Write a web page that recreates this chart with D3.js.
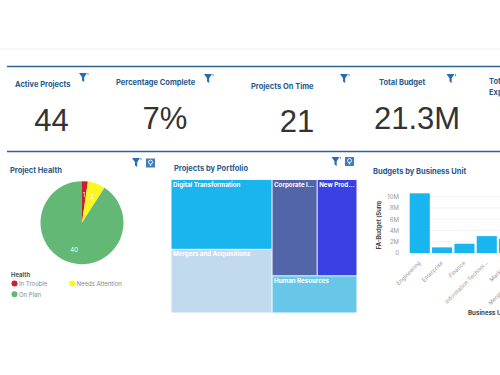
<!DOCTYPE html>
<html>
<head>
<meta charset="utf-8">
<script src="https://cdn.jsdelivr.net/npm/d3@7"></script>
<style>
html, body { margin: 0; padding: 0; background: #fff; overflow: hidden; }
svg { display: block; }
text { font-family: "Inter", "Noto Sans", sans-serif; }
.title { fill: #27598c; font-weight: 700; font-size: 7.5px; }
.kpi { fill: #333; font-family: "Liberation Sans", sans-serif; font-size: 31px; text-anchor: middle; }
.tick text { fill: #999; font-size: 6px; }
.xlabels .tick text { font-size: 5.6px; }
.legend { fill: #888; font-size: 6px; }
</style>
</head>
<body>
<svg id="chart" width="500" height="375"></svg>
<script>
const kpiTitles = ['Active Projects', 'Percentage Complete', 'Projects On Time', 'Total Budget'];
const kpiValues = ['44', '7%', '21', '21.3M'];

const healthNames = ['In Trouble', 'Needs Attention', 'On Plan'];
const healthValues = [1, 3, 40];
const healthColors = ['#c8202f', '#fbf71f', '#62b874'];

const portfolioNames = ['Digital Transformation', 'Mergers and Acquisitions', 'Corporate I...', 'New Prod...', 'Human Resources'];
const portfolioValues = [12.5, 11.4, 7.7, 6.8, 5.6];
const portfolioColors = ['#18b5ee', '#c2daee', '#5265a8', '#3a40e2', '#68c6e8'];

const unitNames = ['Engineering', 'Enterprise', 'Finance', 'Information Technol...', 'Marketing', 'Mergers and Acquisi...'];
const unitBudgets = [10.6, 1, 1.65, 3, 2.5, 1.5];
const budgetTicks = [0, 2, 4, 6, 8, 10];

const svg = d3.select('#chart');

// faint header line and the two blue section rules
svg.append('line').attr('x1', 0).attr('x2', 500).attr('y1', 49).attr('y2', 49)
    .attr('stroke', '#f0f0f0');
svg.selectAll('.rule')
    .data([66.5, 151.5])
    .enter()
    .append('line')
    .attr('class', 'rule')
    .attr('x1', 7).attr('x2', 500)
    .attr('y1', d => d).attr('y2', d => d)
    .attr('stroke', '#2c6496')
    .attr('stroke-width', 1.6);

function funnel(x, y) {
    const g = svg.append('g').attr('transform', `translate(${x}, ${y})`);
    g.append('path').attr('d', 'M0,0 L8,0 L5.2,4.2 L5.2,9 L3,7.6 L3,4.2 Z').attr('fill', '#2a6cb0');
    g.append('circle').attr('cx', 9).attr('cy', 1).attr('r', 0.7).attr('fill', '#2a6cb0');
}

function bulb(x, y) {
    const g = svg.append('g').attr('transform', `translate(${x}, ${y})`);
    g.append('rect').attr('width', 9).attr('height', 9).attr('fill', '#3f7fc0');
    g.append('circle').attr('cx', 4.5).attr('cy', 3.6).attr('r', 2)
        .attr('fill', 'none').attr('stroke', '#e8f2fa').attr('stroke-width', 1);
    g.append('rect').attr('x', 3.9).attr('y', 5.6).attr('width', 1.2).attr('height', 1.8).attr('fill', '#e8f2fa');
}

// KPI row
const kpiTitleX = [15, 116, 251, 379];
const kpiTitleY = [87, 85, 89, 85];
const kpiValueX = [51.5, 165, 297, 417];
const kpiValueY = [131, 129, 132, 129];
const kpiFunnelX = [79, 204, 340, 446.5];
const kpiFunnelY = [73, 74, 74, 74];
kpiTitles.forEach((t, i) => {
    svg.append('text').attr('class', 'title').attr('x', kpiTitleX[i]).attr('y', kpiTitleY[i]).text(t);
    svg.append('text').attr('class', 'kpi').attr('x', kpiValueX[i]).attr('y', kpiValueY[i]).text(kpiValues[i]);
    funnel(kpiFunnelX[i], kpiFunnelY[i]);
});
svg.append('text').attr('class', 'title').attr('x', 489).attr('y', 84).text('Total');
svg.append('text').attr('class', 'title').attr('x', 489).attr('y', 95).text('Expenses');

// Project Health pie
svg.append('text').attr('class', 'title').attr('x', 10).attr('y', 172.5).text('Project Health');
funnel(132, 158);
bulb(146, 158.5);

const pie = d3.pie().sort(null);
const arc = d3.arc().innerRadius(0).outerRadius(41.5);
const labelArc = d3.arc().innerRadius(28).outerRadius(28);
const pieG = svg.append('g').attr('transform', 'translate(82, 222.7)');
pieG.selectAll('path')
    .data(pie(healthValues))
    .enter()
    .append('path')
    .attr('d', arc)
    .attr('fill', (d, i) => healthColors[i]);
pieG.selectAll('text')
    .data(pie(healthValues))
    .enter()
    .append('text')
    .attr('transform', d => `translate(${labelArc.centroid(d)})`)
    .attr('dy', '0.35em')
    .attr('text-anchor', 'middle')
    .attr('fill', '#fff')
    .style('font-size', '6px')
    .text(d => d.value);

svg.append('text').attr('x', 11).attr('y', 277).attr('fill', '#555')
    .style('font-size', '6px').style('font-weight', 700).text('Health');
const legendX = [14.5, 72, 14.5];
const legendY = [283.5, 283.5, 294.3];
healthNames.forEach((n, i) => {
    svg.append('circle').attr('cx', legendX[i]).attr('cy', legendY[i]).attr('r', 3).attr('fill', healthColors[i]);
    svg.append('text').attr('class', 'legend').attr('x', legendX[i] + 4.5).attr('y', legendY[i] + 2.2).text(n);
});

// Projects by Portfolio treemap
svg.append('text').attr('class', 'title').attr('x', 174).attr('y', 171).text('Projects by Portfolio');
funnel(331.5, 157);
bulb(345, 157);

const root = d3.hierarchy({ children: portfolioNames.map((n, i) => ({ name: n, value: portfolioValues[i], color: portfolioColors[i] })) })
    .sum(d => d.value);
d3.treemap().size([185, 132.5]).tile(d3.treemapSquarify).paddingInner(1)(root);

const cells = svg.append('g').attr('transform', 'translate(171.5, 180)')
    .selectAll('g')
    .data(root.leaves())
    .enter()
    .append('g')
    .attr('transform', d => `translate(${d.x0}, ${d.y0})`);
cells.append('rect')
    .attr('width', d => d.x1 - d.x0)
    .attr('height', d => d.y1 - d.y0)
    .attr('fill', d => d.data.color);
cells.append('text')
    .attr('x', 1.5).attr('y', 6.5)
    .attr('fill', '#fff')
    .style('font-size', '6.2px')
    .style('font-weight', 700)
    .text(d => d.data.name);

// Budgets by Business Unit bars
svg.append('text').attr('class', 'title').attr('x', 373).attr('y', 174).text('Budgets by Business Unit');

const x = d3.scaleBand().domain(unitNames).range([409.7, 541.5]).paddingInner(0.1).paddingOuter(0);
const y = d3.scaleLinear().domain([0, 10]).range([253, 196.7]);

svg.append('g').selectAll('line')
    .data(budgetTicks)
    .enter()
    .append('line')
    .attr('x1', 409).attr('x2', 500)
    .attr('y1', d => y(d)).attr('y2', d => y(d))
    .attr('stroke', '#f2f2f2');

svg.append('g').selectAll('rect')
    .data(unitNames)
    .enter()
    .append('rect')
    .attr('x', d => x(d))
    .attr('y', (d, i) => y(unitBudgets[i]))
    .attr('width', x.bandwidth())
    .attr('height', (d, i) => y(0) - y(unitBudgets[i]))
    .attr('fill', '#18b5ee');

const yAxis = d3.axisLeft(y)
    .tickValues(budgetTicks)
    .tickFormat(d => d === 0 ? '0' : d + 'M')
    .tickSize(0)
    .tickPadding(4);
svg.append('g')
    .attr('transform', 'translate(403, 0)')
    .call(yAxis)
    .call(g => g.select('.domain').remove());

const xAxis = d3.axisBottom(x).tickSize(0).tickPadding(0);
svg.append('g')
    .attr('class', 'xlabels')
    .attr('transform', 'translate(0, 262)')
    .call(xAxis)
    .call(g => g.select('.domain').remove())
    .selectAll('text')
    .attr('x', 0)
    .attr('y', 0)
    .attr('dy', '0.32em')
    .attr('text-anchor', 'end')
    .attr('transform', 'rotate(-45)');

svg.append('text')
    .attr('x', 468).attr('y', 315)
    .attr('fill', '#444')
    .style('font-size', '6.2px')
    .style('font-weight', 700)
    .text('Business Unit');

svg.append('text')
    .attr('transform', 'translate(381, 225) rotate(-90)')
    .attr('text-anchor', 'middle')
    .attr('fill', '#444')
    .style('font-size', '5.8px')
    .style('font-weight', 700)
    .text('FA-Budget (Sum)');
</script>
</body>
</html>
